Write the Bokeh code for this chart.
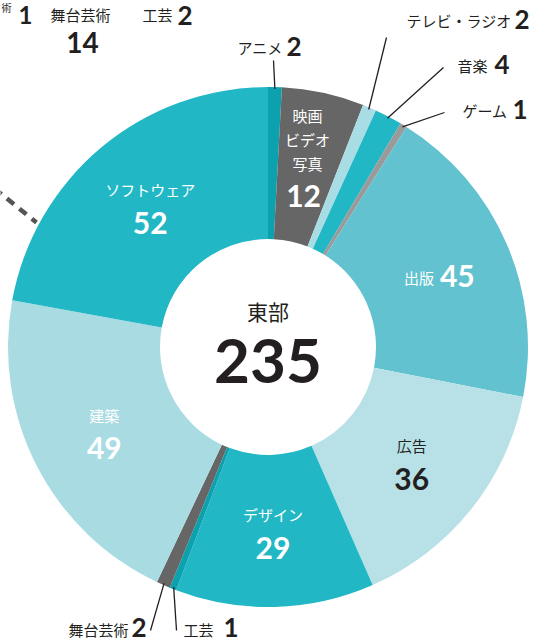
import numpy as np
from bokeh.plotting import figure
from bokeh.models import Range1d
from bokeh.core.properties import value
from bokeh.embed import file_html
from bokeh.resources import INLINE

# ---- data ----
categories = ["アニメ", "映画ビデオ写真", "テレビ・ラジオ", "音楽", "ゲーム", "出版",
              "広告", "デザイン", "工芸", "舞台芸術", "建築", "ソフトウェア"]
values = [2, 12, 2, 4, 1, 45, 36, 29, 1, 2, 49, 52]
colors = ["#0ca1ae", "#666666", "#a9dde5", "#22b7c5", "#9a9a9a", "#62c2cf",
          "#b8e1e7", "#22b7c5", "#0ca1ae", "#666666", "#a9dbe3", "#22b7c5"]
region_name = "東部"
region_total = 235
partial_names = ["舞台芸術", "工芸"]
partial_values = [14, 2]

W, H = 534, 642
JP = value("Noto Sans CJK JP")
NUM = value("Lato")
DARK = "#231f20"

p = figure(width=W, height=H, x_range=Range1d(0, W), y_range=Range1d(0, H),
           output_backend="svg", toolbar_location=None, min_border=0)
p.axis.visible = False
p.grid.visible = False
p.outline_line_color = None
p.background_fill_color = "white"

cx, cy_img = 267.5, 346.5
r_out, r_in = 260, 108
cy = H - cy_img

frac = np.array(values) / sum(values)
cum = np.concatenate([[0], np.cumsum(frac)])
start = np.pi / 2 - 2 * np.pi * cum[:-1]
end = np.pi / 2 - 2 * np.pi * cum[1:]
mid = (start + end) / 2

p.annular_wedge(x=cx, y=cy, inner_radius=r_in, outer_radius=r_out,
                start_angle=start, end_angle=end, direction="clock",
                fill_color=colors, line_color=None)


def txt(x, y_img, s, size, color=DARK, font=JP, align="center", style="normal"):
    p.text(x=[x], y=[H - y_img], text=[s], text_font=font, text_font_size=f"{size}px",
           text_color=color, text_align=align, text_baseline="middle", text_font_style=style)


def line(x0, y0, x1, y1, color="#231f20", width=1.3, dash="solid"):
    p.line(x=[x0, x1], y=[H - y0, H - y1], line_color=color, line_width=width, line_dash=dash)


# center
txt(cx, 310, region_name, 21)
txt(cx, 360, str(region_total), 62, font=NUM, style="bold")

# inside labels
def pos(i, r):
    return cx + r * np.cos(mid[i]), cy_img - r * np.sin(mid[i])

inside = {5: "row", 6: "col", 7: "col", 10: "col", 11: "col"}
text_colors = {5: "white", 6: DARK, 7: "white", 10: "white", 11: "white"}
for i, kind in inside.items():
    x, y = pos(i, 184)
    if kind == "row":
        txt(x - 3, y + 3, categories[i], 15, color=text_colors[i], align="right")
        txt(x + 3, y + 2, str(values[i]), 30, color=text_colors[i], font=NUM, align="left", style="bold")
    else:
        txt(x, y - 16, categories[i], 15, color=text_colors[i])
        txt(x, y + 17, str(values[i]), 30, color=text_colors[i], font=NUM, style="bold")

# 映画 ビデオ 写真 (stacked)
x, y = pos(1, 196)
for k, s in enumerate(["映画", "ビデオ", "写真"]):
    txt(x - 2, y - 40 + 24 * k, s, 15, color="white")
txt(x - 6, y + 41, str(values[1]), 30, color="white", font=NUM, style="bold")

# callouts
callouts = [
    (0, (273, 60), "above"),
    (2, (386, 37), "tr"),
    (3, (443, 67), "r"),
    (4, (444, 112), "r"),
    (8, (176, 630), "br"),
    (9, (150, 630), "bl"),
]
for i, (ex, ey), kind in callouts:
    sx, sy = pos(i, r_out - 2)
    line(sx, sy, ex, ey)
    name, v = categories[i], str(values[i])
    if kind == "above":
        txt(ex + 9, 47, name, 15, align="right")
        txt(ex + 13, 46, v, 26, font=NUM, align="left", style="bold")
    elif kind == "tr":
        txt(511, 20, name, 15, align="right")
        txt(514, 19, v, 26, font=NUM, align="left", style="bold")
    elif kind == "r":
        txt(ex + 44 if i == 3 else ex + 63, ey - 2, name, 15, align="right")
        txt(ex + 51 if i == 3 else ex + 68, ey - 3, v, 26, font=NUM, align="left", style="bold")
    elif kind == "br":
        txt(ex + 7, 629, name, 15, align="left")
        txt(ex + 47, 627, v, 26, font=NUM, align="left", style="bold")
    elif kind == "bl":
        txt(ex - 22, 629, name, 15, align="right")
        txt(ex - 19, 627, v, 26, font=NUM, align="left", style="bold")

# partial neighbouring chart (cropped at the top-left)
txt(1, 7, "術", 10, align="left")
txt(18, 14, "1", 24, font=NUM, align="left", style="bold")
txt(80, 14, partial_names[0], 15)
txt(172, 14, partial_names[1], 15, align="right")
txt(177, 15, str(partial_values[1]), 26, font=NUM, align="left", style="bold")
txt(82, 42, str(partial_values[0]), 28, font=NUM, style="bold")
line(-6, 188, 36, 222, color="#555555", width=4.5, dash="9 7")

open("out.html", "w").write(file_html(p, INLINE))
